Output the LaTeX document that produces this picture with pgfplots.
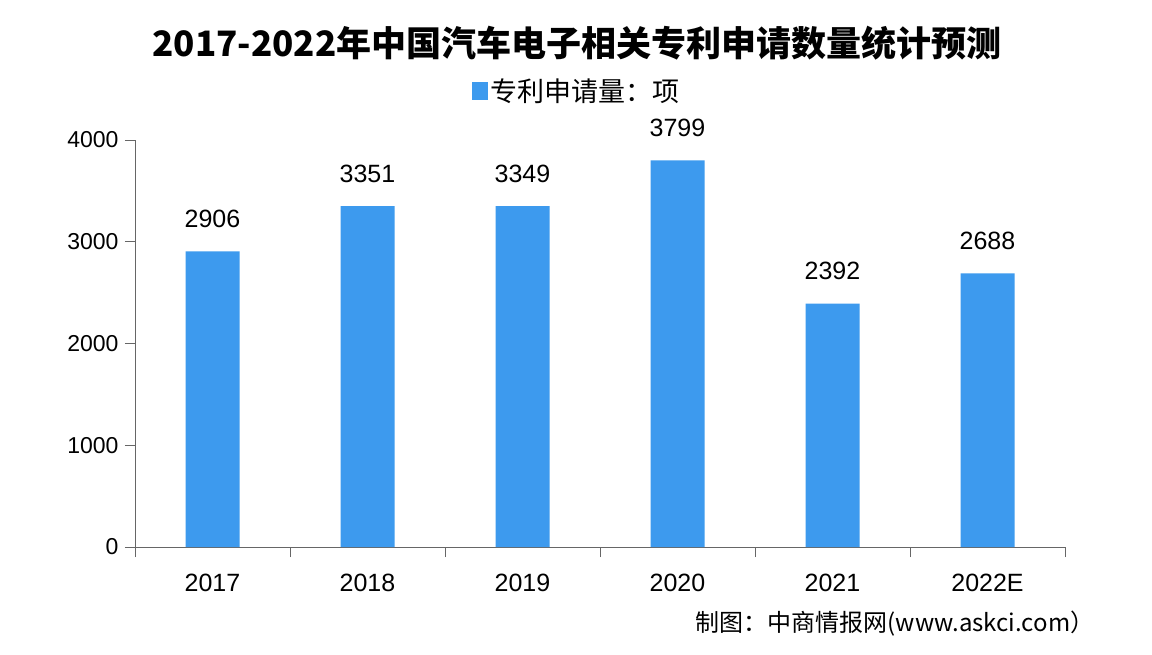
\documentclass[border=0pt]{standalone}
\usepackage{pgfplots}
\pgfplotsset{compat=1.18}
\usepackage{fontspec}
\setmainfont{Liberation Sans}
\newfontfamily\cjk{Noto Sans CJK SC}
\definecolor{barblue}{HTML}{3D9AEE}
\definecolor{axgray}{HTML}{666666}
\pgfplotstableread{
x val
0 2906
1 3351
2 3349
3 3799
4 2392
5 2688
}\datatable
\begin{document}
\begin{tikzpicture}[x=1pt,y=1pt]
\path[use as bounding box,fill=white] (0,0) rectangle (1152,654);
\node[font=\cjk\bfseries\fontsize{35}{40}\selectfont] at (577,611) {2017-2022年中国汽车电子相关专利申请数量统计预测};
\begin{axis}[
  at={(135pt,107pt)}, anchor=south west,
  scale only axis, width=930pt, height=407pt,
  xmin=-0.5, xmax=5.5, ymin=0, ymax=4000,
  axis x line*=bottom, axis y line*=left,
  axis line style={axgray, line width=1pt, -},
  xtick={-0.5,0.5,...,5.5},
  x tick label as interval,
  xticklabels={2017,2018,2019,2020,2021,2022E},
  ytick={0,1000,2000,3000,4000},
  tick align=outside,
  major tick length=10pt,
  tick style={axgray, line width=1pt},
  xticklabel style={font=\fontsize{25}{28}\selectfont, yshift=-14pt},
  yticklabel style={font=\fontsize{23}{28}\selectfont, xshift=-3pt},
  /pgf/number format/assume math mode=true,
  /pgf/number format/1000 sep={},
  legend style={at={(0.475,1.0)}, yshift=49pt, anchor=center, draw=none, fill=none,
    font=\cjk\fontsize{27}{30}\selectfont, legend cell align=left},
  legend image code/.code={\fill[barblue] (0pt,-9pt) rectangle (16pt,9pt);},
  nodes near coords,
  every node near coord/.append style={font=\fontsize{25}{28}\selectfont, black, yshift=20pt},
  clip=false,
]
\addplot[ybar, bar width=54pt, fill=barblue, draw=none] table[x=x, y=val] {\datatable};
\addlegendentry{专利申请量：项}
\end{axis}
\node[font=\cjk\fontsize{24}{28}\selectfont] at (895,30) {制图：中商情报网(www.askci.com）};
\end{tikzpicture}
\end{document}
